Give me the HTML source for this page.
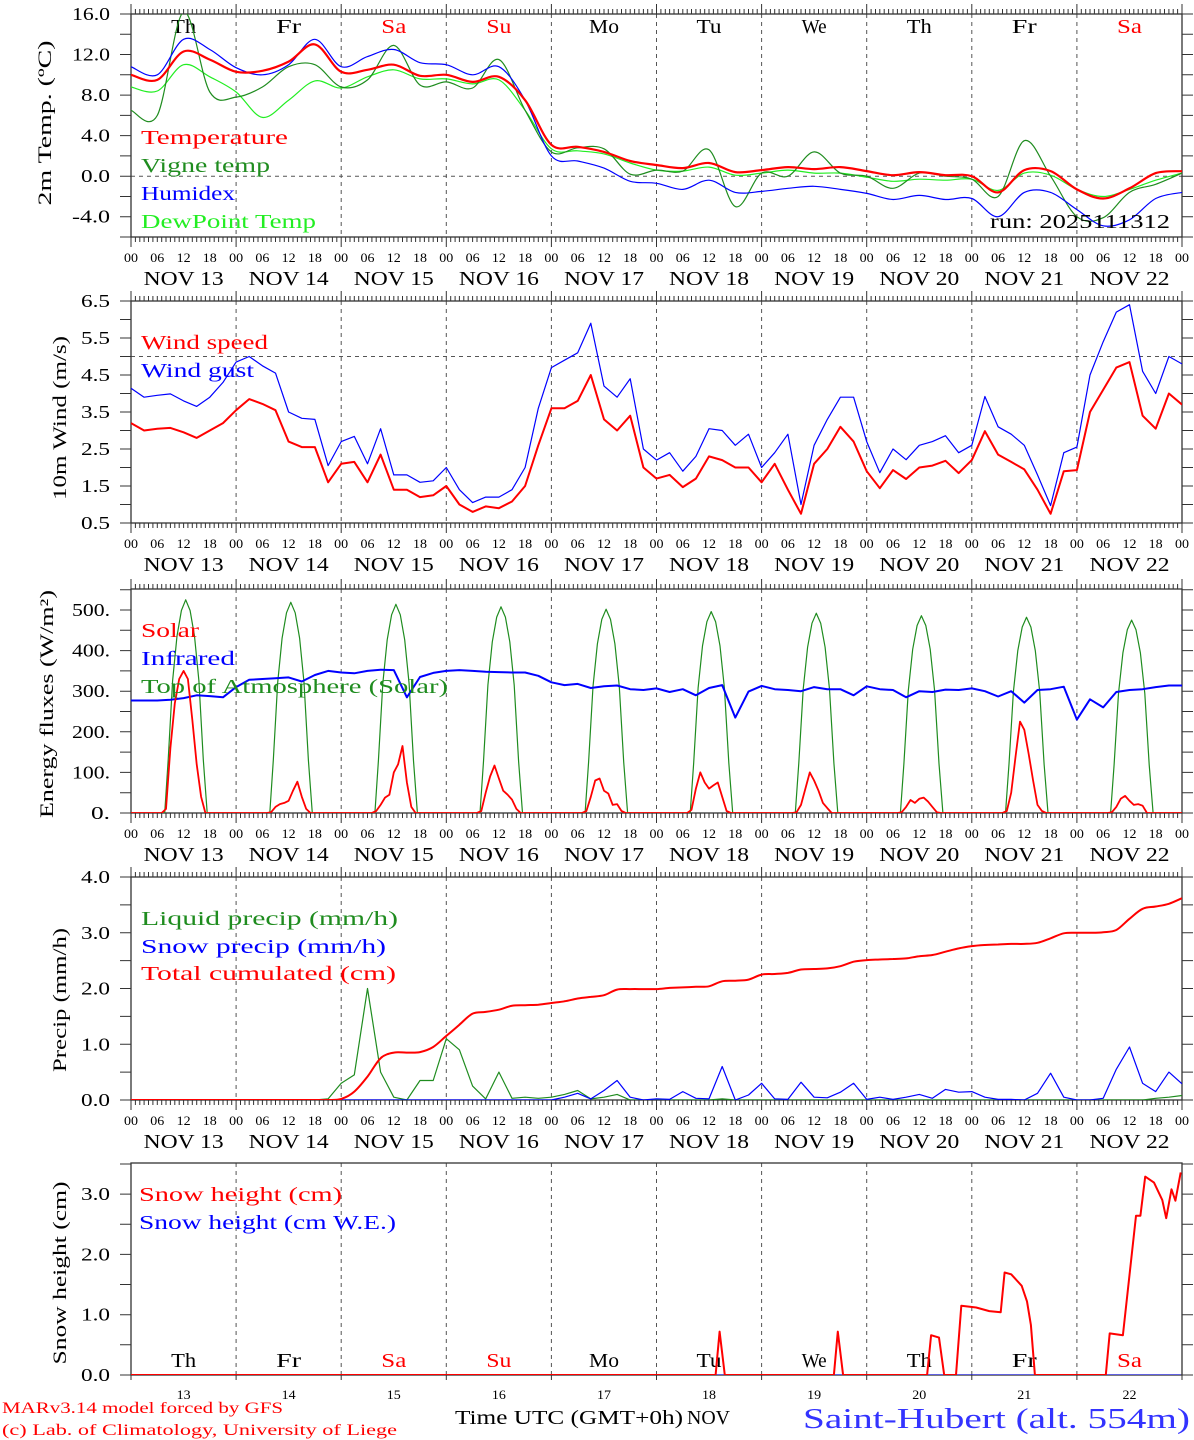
<!DOCTYPE html>
<html><head><meta charset="utf-8"><title>Saint-Hubert meteogram</title>
<style>
html,body{margin:0;padding:0;background:#fff;}
svg{display:block;font-family:"Liberation Serif","DejaVu Serif",serif;}
</style></head>
<body>
<svg id="chart" xmlns="http://www.w3.org/2000/svg" width="1194" height="1440" viewBox="0 0 1194 1440">
<rect x="0" y="0" width="1194" height="1440" fill="#fff"/>
<defs>
<clipPath id="c0"><rect x="131" y="14" width="1051" height="223"/></clipPath>
<clipPath id="c1"><rect x="131" y="301" width="1051" height="222"/></clipPath>
<clipPath id="c2"><rect x="131" y="589" width="1051" height="224"/></clipPath>
<clipPath id="c3"><rect x="131" y="877" width="1051" height="223"/></clipPath>
<clipPath id="c4"><rect x="131" y="1163" width="1051" height="212"/></clipPath>
</defs>
<g id="axes"></g>
<g id="series"></g>

<text transform="translate(51,123) rotate(-90)" text-anchor="middle" font-size="19" textLength="165" lengthAdjust="spacingAndGlyphs">2m Temp. (ºC)</text>
<text transform="translate(66,418) rotate(-90)" text-anchor="middle" font-size="19" textLength="164" lengthAdjust="spacingAndGlyphs">10m Wind (m/s)</text>
<text transform="translate(53,704) rotate(-90)" text-anchor="middle" font-size="19" textLength="228" lengthAdjust="spacingAndGlyphs">Energy fluxes (W/m²)</text>
<text transform="translate(66,1000) rotate(-90)" text-anchor="middle" font-size="19" textLength="144" lengthAdjust="spacingAndGlyphs">Precip (mm/h)</text>
<text transform="translate(66,1273) rotate(-90)" text-anchor="middle" font-size="19" textLength="183" lengthAdjust="spacingAndGlyphs">Snow height (cm)</text>

<g font-size="20">
<text x="141" y="144" fill="#ff0000" textLength="147" lengthAdjust="spacingAndGlyphs">Temperature</text>
<text x="141" y="172" fill="#1f8c1f" textLength="129" lengthAdjust="spacingAndGlyphs">Vigne temp</text>
<text x="141" y="200" fill="#0000ff" textLength="94" lengthAdjust="spacingAndGlyphs">Humidex</text>
<text x="141" y="228" fill="#22ee22" textLength="175" lengthAdjust="spacingAndGlyphs">DewPoint Temp</text>
</g>
<text x="990" y="228" font-size="20" textLength="180" lengthAdjust="spacingAndGlyphs">run: 2025111312</text>
<g font-size="20">
<text x="141" y="349" fill="#ff0000" textLength="127" lengthAdjust="spacingAndGlyphs">Wind speed</text>
<text x="141" y="377" fill="#0000ff" textLength="113" lengthAdjust="spacingAndGlyphs">Wind gust</text>
</g>
<g font-size="20">
<text x="141" y="637" fill="#ff0000" textLength="58" lengthAdjust="spacingAndGlyphs">Solar</text>
<text x="141" y="665" fill="#0000ff" textLength="94" lengthAdjust="spacingAndGlyphs">Infrared</text>
<text x="141" y="693" fill="#1f8c1f" textLength="307" lengthAdjust="spacingAndGlyphs">Top of Atmosphere (Solar)</text>
</g>
<g font-size="20">
<text x="141" y="925" fill="#1f8c1f" textLength="257" lengthAdjust="spacingAndGlyphs">Liquid precip (mm/h)</text>
<text x="141" y="953" fill="#0000ff" textLength="245" lengthAdjust="spacingAndGlyphs">Snow precip (mm/h)</text>
<text x="141" y="980" fill="#ff0000" textLength="255" lengthAdjust="spacingAndGlyphs">Total cumulated (cm)</text>
</g>
<g font-size="20">
<text x="139" y="1201" fill="#ff0000" textLength="203" lengthAdjust="spacingAndGlyphs">Snow height (cm)</text>
<text x="139" y="1229" fill="#0000ff" textLength="257" lengthAdjust="spacingAndGlyphs">Snow height (cm W.E.)</text>
</g>

<text x="2" y="1413" font-size="16" fill="#ff0000" textLength="281" lengthAdjust="spacingAndGlyphs">MARv3.14 model forced by GFS</text>
<text x="2" y="1435" font-size="16" fill="#ff0000" textLength="395" lengthAdjust="spacingAndGlyphs">(c) Lab. of Climatology, University of Liege</text>
<text x="455" y="1424" font-size="20" textLength="228" lengthAdjust="spacingAndGlyphs">Time UTC (GMT+0h)</text>
<text x="687" y="1424" font-size="20" textLength="43" lengthAdjust="spacingAndGlyphs">NOV</text>
<text x="803" y="1428" font-size="28" fill="#3333ff" textLength="387" lengthAdjust="spacingAndGlyphs">Saint-Hubert (alt. 554m)</text>
</svg>

<script>
// ---------- data ----------
const temperature = [10.0,9.5,12.3,11.5,10.3,10.4,11.3,13.0,10.3,10.5,11.0,9.9,10.0,9.3,9.8,7.5,3.1,2.9,2.4,1.5,1.1,0.8,1.3,0.4,0.6,0.9,0.7,0.9,0.5,0.1,0.4,0.1,0.0,-1.6,0.6,0.5,-1.3,-2.2,-1.2,0.3,0.5];
const vigneTemp = [6.5,6.0,16.2,8.3,7.8,8.8,10.8,11.0,8.8,9.5,12.9,9.0,9.3,8.7,11.5,6.5,2.4,2.8,2.7,0.2,0.6,0.5,2.6,-3.0,0.3,0.0,2.4,0.3,0.0,-1.2,0.3,0.0,-0.3,-2.0,3.5,0.0,-4.0,-4.1,-1.6,-0.8,0.3];
const humidex = [10.8,10.0,13.5,12.5,10.7,10.0,11.0,13.5,10.8,11.8,12.5,11.2,11.0,10.0,10.8,7.5,2.0,1.5,0.8,-0.5,-0.7,-1.3,-0.4,-1.6,-1.5,-1.2,-1.0,-1.3,-1.7,-2.3,-1.9,-2.3,-2.2,-4.0,-1.6,-1.6,-3.3,-4.9,-4.3,-2.2,-1.6];
const dewPoint = [8.8,8.4,11.0,9.8,8.3,5.8,7.5,9.4,8.7,9.8,10.5,9.6,9.6,9.1,9.5,6.5,2.7,2.5,2.2,1.3,0.6,0.5,0.9,0.1,0.3,0.6,0.3,0.3,-0.1,-0.5,-0.3,-0.4,-0.3,-1.4,0.3,0.1,-1.3,-2.0,-1.3,-0.4,0.3];
const windSpeed = [3.2,3.0,3.05,3.07,2.95,2.8,3.0,3.2,3.55,3.85,3.72,3.55,2.7,2.55,2.55,1.6,2.1,2.15,1.6,2.35,1.4,
 1.4,1.2,1.25,1.5,1.0,0.8,0.95,0.9,1.08,1.5,2.6,3.6,3.6,3.8,4.5,3.3,3.0,3.4,2.0,1.7,
 1.8,1.47,1.7,2.3,2.2,2.0,2.0,1.6,2.1,1.4,0.75,2.1,2.5,3.1,2.7,1.9,1.44,1.93,1.69,2.0,2.05,2.18,1.85,2.2,2.98,2.35,2.15,1.95,1.4,0.75,1.9,1.93,3.5,4.1,4.7,4.85,3.4,3.05,4.0,3.7];
const windGust = [4.14,3.9,3.95,3.99,3.8,3.65,3.9,4.3,4.85,5.0,4.75,4.55,3.5,3.33,3.3,2.05,2.7,2.84,2.1,3.05,1.8,
 1.8,1.6,1.64,2.0,1.4,1.05,1.2,1.2,1.4,2.0,3.6,4.7,4.9,5.1,5.9,4.2,3.9,4.4,2.5,2.2,
 2.4,1.9,2.3,3.05,3.0,2.6,2.9,2.0,2.4,2.9,1.0,2.6,3.3,3.9,3.9,2.7,1.86,2.5,2.21,2.6,2.7,2.86,2.4,2.6,3.92,3.1,2.9,2.6,1.8,0.97,2.4,2.55,4.5,5.4,6.2,6.4,4.6,4.0,5.0,4.8];
const infrared = [277,277,277,279,283,290,288,285,310,328,330,332,334,324,340,350,346,344,350,353,352,
 285,335,345,350,352,350,348,347,346,346,338,322,315,318,308,312,314,305,303,307,
 298,305,290,308,315,235,299,313,305,303,300,310,305,305,290,312,305,303,285,300,298,304,303,307,300,287,300,272,303,305,311,230,280,260,298,303,305,310,314,314];
const solarHours = [8,9,10,11,12,13,14,15,16,17];
const solarDay0 = [10,160,270,330,350,330,230,120,40,0];
const solarDay1 = [2,15,22,25,30,55,77,40,10,0];
const solarDay2 = [5,20,38,45,100,120,165,75,15,0];
const solarDay3 = [5,50,90,117,85,55,45,33,10,0];
const solarDay4 = [5,40,80,85,55,48,20,22,5,0];
const solarDay5 = [8,60,100,75,60,68,75,40,5,0];
const solarDay6 = [2,20,60,100,80,55,25,12,0,0];
const solarDay7 = [2,15,32,25,35,38,28,15,2,0];
const solarDay8 = [5,50,140,225,205,145,80,20,5,0];
const solarDay9 = [2,15,35,42,30,20,22,18,0,0];
const toaPeak = [525,519,514,508,502,496,492,486,482,475];
const toaHours = [7.7,8.5,9.5,10.5,11.5,12.5,13.5,14.5,15.5,16.5,17.4];
const toaShape = [0,0.25,0.62,0.83,0.95,1.0,0.95,0.83,0.62,0.25,0];
const totalCumulated = [0,0,0,0,0,0,0,0,0,0,0,0,0,0,0,0,
 0.02,0.15,0.42,0.75,0.85,0.85,0.86,0.95,1.15,1.35,1.55,1.58,1.62,1.69,1.70,1.71,1.74,1.77,1.82,1.85,1.88,1.98,1.99,1.99,1.99,
 2.01,2.02,2.03,2.04,2.13,2.14,2.16,2.25,2.26,2.28,2.34,2.35,2.36,2.40,2.48,2.51,2.52,2.53,2.54,2.58,2.60,2.66,2.72,2.76,2.78,2.79,2.80,2.80,2.82,2.90,2.99,3.00,3.00,3.01,3.05,3.25,3.43,3.47,3.52,3.62];
const liquidPrecip = [0,0,0,0,0,0,0,0,0,0,0,0,0,0,0,
 0.02,0.3,0.45,2.0,0.5,0.05,0,0.35,0.35,1.1,0.9,0.25,0.02,0.5,0.03,0.05,0.03,0.05,0.1,0.17,0.02,0.05,0.1,0,0,0,
 0,0,0,0,0.02,0,0,0,0,0,0,0,0,0,0,0,0,0,0,0,0,0,0,0,0,0,0,0,0,0,0,0,0,0,0,0,0,0.03,0.05,0.08];
const snowPrecip = [0,0,0,0,0,0,0,0,0,0,0,0,0,0,0,0,0,0,0,0,0,0,0,0,0,0,0,0,0,0,0,0,0,
 0.05,0.12,0.02,0.17,0.35,0.05,0.0,0.02,
 0.01,0.15,0.03,0.02,0.6,0.0,0.09,0.3,0.02,0.01,0.32,0.05,0.04,0.14,0.3,0.01,0.05,0.01,0.05,0.1,0.03,0.19,0.14,0.15,0.05,0.01,0.01,0.0,0.12,0.48,0.05,0.0,0.0,0.03,0.55,0.95,0.3,0.15,0.5,0.29];
const snowTimes = [0,133.5,134.4,135.6,160.5,161.4,162.6,181.8,182.7,184.5,185.7,188.4,189.6,193,196,198.6,199.5,201,203.4,204.6,205.5,206.4,222.6,223.5,226.5,229.5,230.5,231.6,233.6,235.5,236.4,237.6,238.5,239.7];
const snowHeight = [0,0,0.72,0,0,0.72,0,0,0.66,0.62,0,0,1.15,1.12,1.06,1.04,1.70,1.67,1.48,1.22,0.83,0,0,0.69,0.66,2.64,2.64,3.29,3.19,2.9,2.6,3.08,2.89,3.36];
const dayNames = ["Th","Fr","Sa","Su","Mo","Tu","We","Th","Fr","Sa"];
const dayNums = ["13","14","15","16","17","18","19","20","21","22"];
const hourLabels = ["00","06","12","18"];

// ---------- geometry ----------
const NS = "http://www.w3.org/2000/svg";
const X0 = 131, X1 = 1182, HOURS = 240;
function xAt(h){ return X0 + h*(X1-X0)/HOURS; }
const panels = [
 {top:14, bot:237, min:-6, max:16, minor:2, labels:[-4,0,4,8,12,16], dec:1, clip:"c0", hourTicks:true},
 {top:301, bot:523, min:0.5, max:6.5, minor:0.5, labels:[0.5,1.5,2.5,3.5,4.5,5.5,6.5], dec:1, clip:"c1", hourTicks:true},
 {top:589, bot:813, min:0, max:(813-589)/0.406, minor:50, labels:[0,100,200,300,400,500], dec:-1, clip:"c2", hourTicks:true},
 {top:877, bot:1100, min:0, max:4, minor:0.5, labels:[0,1,2,3,4], dec:1, clip:"c3", hourTicks:true},
 {top:1163, bot:1375, min:0, max:(1375-1163)/60.3, minor:0.5, labels:[0,1,2,3], dec:1, clip:"c4", hourTicks:false}
];
function yAt(p, v){ return p.bot - (v-p.min)*(p.bot-p.top)/(p.max-p.min); }
function mk(tag, attrs, parent){
  const el = document.createElementNS(NS, tag);
  for (const k in attrs) el.setAttribute(k, attrs[k]);
  parent.appendChild(el);
  return el;
}
const axes = document.getElementById("axes");
const seriesG = document.getElementById("series");

panels.forEach((p, pi) => {
  const g = mk("g", {}, axes);
  
  
  let d = "";
  for (let v = p.min; v <= p.max + 1e-6; v += p.minor) {
    const y = yAt(p, v).toFixed(1);
    d += `M120 ${y}H${X0}M${X1} ${y}H1193`;
  }
  for (let h = 0; h <= HOURS; h++) {
    const x = xAt(h).toFixed(1);
    const isDay = h % 24 === 0;
    if (p.hourTicks) {
      d += `M${x} ${p.top - (isDay ? 10 : 5)}V${p.top}`;
      d += `M${x} ${p.bot}V${p.bot + (isDay ? 10 : 5)}`;
    } else if (isDay) {
      d += `M${x} ${p.bot}V${p.bot + 5}`;
    }
  }
  const ticks = mk("path", {d:d, stroke:"#333", "stroke-width":1, fill:"none"}, g);
  
  
  let dd = "";
  for (let k = 1; k < 10; k++) { const x = xAt(k*24).toFixed(1); dd += `M${x} ${p.top}V${p.bot}`; }
  if (pi === 0) dd += `M${X0} ${yAt(p,0).toFixed(1)}H${X1}`;
  if (pi === 1) dd += `M${X0} ${yAt(p,5).toFixed(1)}H${X1}`;
  const dl = mk("path", {d:dd, stroke:"#555", "stroke-width":1, "stroke-dasharray":"4,4", fill:"none"}, g);
  
  
  const fr = mk("rect", {x:X0, y:p.top, width:X1-X0, height:p.bot-p.top, fill:"none", stroke:"#333", "stroke-width":1.3}, g);
  
  
  p.labels.forEach(v => {
    const s = p.dec < 0 ? v.toFixed(0) + "." : v.toFixed(1);
    const t = mk("text", {x:110, y:(yAt(p, v) + 6).toFixed(1), "font-size":18, "text-anchor":"end", textLength:(s.length*9.6).toFixed(0), lengthAdjust:"spacingAndGlyphs"}, g);
    
    
    t.textContent = s;
  });
  if (p.hourTicks) {
    for (let h = 0; h <= HOURS; h += 6) {
      const s = hourLabels[(h/6) % 4];
      const t = mk("text", {x:xAt(h).toFixed(1), y:p.bot + 25, "font-size":13, "text-anchor":"middle", textLength:14, lengthAdjust:"spacingAndGlyphs"}, g);
      
      
      t.textContent = s;
    }
    for (let k = 0; k < 10; k++) {
      const t = mk("text", {x:xAt(k*24+12).toFixed(1), y:p.bot + 48, "font-size":20, "text-anchor":"middle", textLength:80, lengthAdjust:"spacingAndGlyphs"}, g);
      
      
      t.textContent = "NOV " + dayNums[k];
    }
  }
});
function dayRow(y, pname){
  for (let k = 0; k < 10; k++) {
    const t = mk("text", {x:xAt(k*24+12).toFixed(1), y:y, "font-size":20, "text-anchor":"middle", fill:(dayNames[k]==="Sa"||dayNames[k]==="Su")?"#ff0000":"#000", textLength:dayNames[k]==="Mo"?30:25, lengthAdjust:"spacingAndGlyphs"}, axes);
    
    
    t.textContent = dayNames[k];
  }
}
dayRow(33, 'top');
dayRow(1367, 'bottom');
for (let k = 0; k < 10; k++) {
  const t = mk("text", {x:xAt(k*24+12).toFixed(1), y:1399, "font-size":13, "text-anchor":"middle", textLength:14, lengthAdjust:"spacingAndGlyphs"}, axes);
  
  
  t.textContent = dayNums[k];
}

// ---------- series ----------
function drawLine(pi, times, vals, color, width, name, smooth){
  const p = panels[pi];
  const pts = vals.map((v, i) => [xAt(times[i]), yAt(p, v)]);
  let d = "M" + pts[0][0].toFixed(1) + " " + pts[0][1].toFixed(1);
  for (let i = 1; i < pts.length; i++) {
    if (smooth) {
      const p0 = pts[Math.max(0, i-2)], p1 = pts[i-1], p2 = pts[i], p3 = pts[Math.min(pts.length-1, i+1)];
      const c1x = p1[0] + (p2[0]-p0[0])/6, c1y = p1[1] + (p2[1]-p0[1])/6;
      const c2x = p2[0] - (p3[0]-p1[0])/6, c2y = p2[1] - (p3[1]-p1[1])/6;
      d += `C${c1x.toFixed(1)} ${c1y.toFixed(1)} ${c2x.toFixed(1)} ${c2y.toFixed(1)} ${p2[0].toFixed(1)} ${p2[1].toFixed(1)}`;
    } else {
      d += "L" + pts[i][0].toFixed(1) + " " + pts[i][1].toFixed(1);
    }
  }
  const el = mk("path", {d:d, stroke:color, "stroke-width":width, fill:"none", "clip-path":"url(#" + p.clip + ")", "stroke-linejoin":"round"}, seriesG);
  
  
  return el;
}
function stepTimes(n, step){ const t = []; for (let i = 0; i < n; i++) t.push(i*step); return t; }
const t6 = stepTimes(temperature.length, 6);
const t3 = stepTimes(windSpeed.length, 3);

drawLine(0, t6, dewPoint, "#22ee22", 1.2, "dewpoint-line", true);
drawLine(0, t6, vigneTemp, "#1f8c1f", 1.2, "vigne-temp-line", true);
drawLine(0, t6, humidex, "#0000ff", 1.2, "humidex-line", true);
drawLine(0, t6, temperature, "#ff0000", 2.2, "temperature-line", true);

drawLine(1, t3, windGust, "#0000ff", 1.2, "wind-gust-line", false);
drawLine(1, t3, windSpeed, "#ff0000", 2, "wind-speed-line", false);

const solarDays = [solarDay0,solarDay1,solarDay2,solarDay3,solarDay4,solarDay5,solarDay6,solarDay7,solarDay8,solarDay9];
const hT = [], solarV = [];
const toaT = [0], toaV = [0];
for (let dI = 0; dI < 10; dI++) {
  for (let h = 0; h < 24; h++) {
    const k = solarHours.indexOf(h);
    hT.push(dI*24 + h);
    solarV.push(k >= 0 ? solarDays[dI][k] : 0);
  }
  for (let k = 0; k < toaHours.length; k++) {
    toaT.push(dI*24 + toaHours[k]);
    toaV.push(toaPeak[dI]*toaShape[k]);
  }
}
hT.push(240); solarV.push(0);
toaT.push(240); toaV.push(0);
drawLine(2, toaT, toaV, "#1f8c1f", 1.2, "toa-solar-line", false);
drawLine(2, t3, infrared, "#0000ff", 2, "infrared-line", false);
drawLine(2, hT, solarV, "#ff0000", 1.8, "solar-line", false);

drawLine(3, t3, liquidPrecip, "#1f8c1f", 1.2, "liquid-precip-line", false);
drawLine(3, t3, snowPrecip, "#0000ff", 1.2, "snow-precip-line", false);
drawLine(3, t3, totalCumulated, "#ff0000", 2, "total-cumulated-line", true);

drawLine(4, snowTimes, snowHeight.map(() => 0), "#0000ff", 1, "snow-height-we-line", false);
drawLine(4, snowTimes, snowHeight, "#ff0000", 2, "snow-height-line", false);
</script>
</body></html>
